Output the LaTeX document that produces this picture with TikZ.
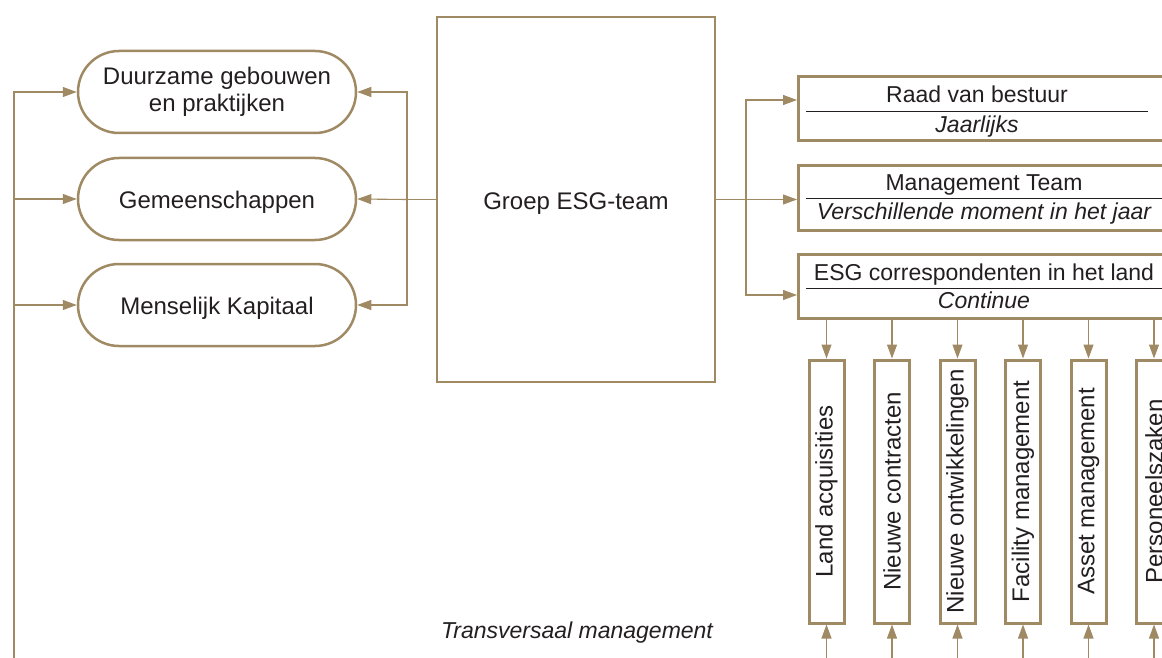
\documentclass[tikz,border=0pt]{standalone}
\usepackage{fontspec}
\setmainfont{Liberation Sans}
\usepackage{graphicx}
\usepackage{tikz}
\usetikzlibrary{arrows.meta, positioning}
\definecolor{esggoud}{RGB}{160,138,100}
\definecolor{esgtekst}{RGB}{35,31,32}
\newcommand{\tekstmaat}{\fontsize{23}{27}\selectfont}
\newcommand{\grotemaat}{\fontsize{24}{27}\selectfont}

\tikzset{
        lijn/.style={draw=esggoud, line width=1.1pt},
        pijl/.style={lijn, -{Triangle[length=14pt, width=10pt]}},
        pil/.style={draw=esggoud, line width=2.5pt, rounded corners=41pt, font=\grotemaat,
                minimum width=278pt, minimum height=82pt, align=center, inner sep=0pt},
        laag/.style={text height=24pt, text depth=5pt},
        groepbox/.style={draw=esggoud, line width=2.5pt, font=\grotemaat,
                minimum width=278pt, minimum height=365pt},
        bord/.style={draw=esggoud, line width=3pt, minimum width=375pt, minimum height=64pt},
        kolom/.style={draw=esggoud, line width=3pt, font=\grotemaat,
                minimum width=35pt, minimum height=263pt, inner sep=0pt},
        scheiding/.style={draw=esgtekst, line width=0.9pt}
}

\begin{document}
\begin{tikzpicture}[x=1pt, y=-1pt, font=\tekstmaat, text=esgtekst]
        \clip (0, 0) rectangle (1162, 658);
        % pijlers links
        \node[pil] (duurzaam) at (217, 92) {\raisebox{-3pt}{Duurzame gebouwen}\\\raisebox{-3pt}{en praktijken}};
        \node[pil, laag] (gemeen) at (217, 199) {Gemeenschappen};
        \node[pil, laag] (mens) at (217, 305) {Menselijk Kapitaal};
        % groep
        \node[groepbox, laag] (groep) at (576, 199.5) {Groep ESG-team};
        % overleg rechts
        \node[bord] (raad) at (986, 109) {};
        \node[bord] (mt) at (986, 198) {};
        \node[bord] (corr) at (986, 286.5) {};
        \node[anchor=base] (raad-t) at (977, 103) {Raad van bestuur};
        \node[anchor=base] (raad-f) at (977, 132) {\itshape Jaarlijks};
        \node[anchor=base] (mt-t) at (984, 190) {Management Team};
        \node[anchor=base] (mt-f) at (984, 219) {\itshape Verschillende moment in het jaar};
        \node[anchor=base] (corr-t) at (984, 280) {ESG correspondenten in het land};
        \node[anchor=base] (corr-f) at (984, 308) {\itshape Continue};
        \draw[scheiding] (806, 111) -- (1148, 111);
        \draw[scheiding] (806, 198) -- (1175, 198);
        \draw[scheiding] (806, 288) -- (1175, 288);
        % afdelingen
        \foreach \naam/\tekst [count=\i] in {land/Land acquisities, contr/Nieuwe contracten,
                        ontw/Nieuwe ontwikkelingen, fac/Facility management,
                        asset/Asset management, pers/Personeelszaken} {
                \node[kolom] (\naam) at ({826.5 + 65.5*(\i - 1)}, 491.5) {\rotatebox{90}{\tekst}};
                \coordinate (\naam-onder) at ({826.5 + 65.5*(\i - 1)}, 665);
                \draw[pijl] (corr.south -| \naam) -- (\naam.north);
                \draw[pijl] (\naam-onder) -- (\naam.south);
            }
        % verbindingen
        \coordinate (links) at (14, 665);
        \coordinate (splitsL) at (407, 199.5);
        \coordinate (splitsR) at (746, 199.5);
        \draw[pijl] (links) |- (duurzaam.west);
        \draw[pijl] (links |- gemeen.west) -- (gemeen.west);
        \draw[pijl] (links |- mens.west) -- (mens.west);
        \draw[lijn] (groep.west) -- (splitsL);
        \draw[pijl] (splitsL) |- (duurzaam.east);
        \draw[pijl] (splitsL) |- (mens.east);
        \draw[pijl] (splitsL) -- (gemeen.east);
        \draw[lijn] (groep.east) -- (splitsR);
        \draw[pijl] (splitsR) |- ([yshift=9pt]raad.west);
        \draw[pijl] (splitsR) -- (splitsR -| mt.west);
        \draw[pijl] (splitsR) |- ([yshift=-8.5pt]corr.west);
        \node[anchor=base] (transversaal) at (577, 638) {\itshape Transversaal management};
    \end{tikzpicture}
\end{document}
